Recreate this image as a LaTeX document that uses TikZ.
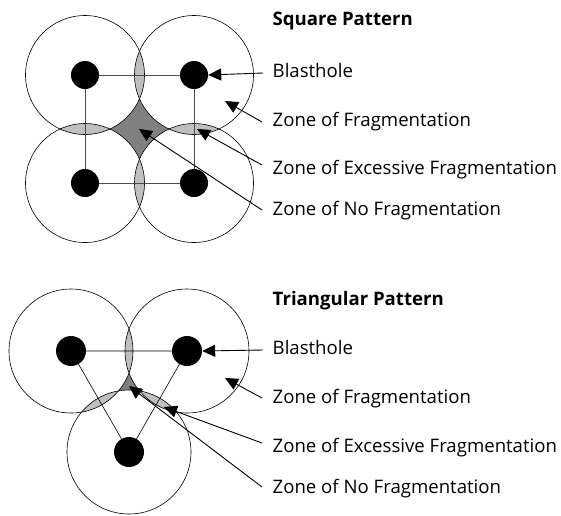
\documentclass[tikz,border=0pt]{standalone}
\usepackage{fontspec}
\setmainfont{Open Sans}
\usetikzlibrary{arrows.meta}
\begin{document}
\begin{tikzpicture}[x=1pt,y=-1pt,
  zone/.style={draw=black,line width=0.6pt},
  hole/.style={circle,fill=black,inner sep=0pt,minimum size=28pt},
  link/.style={draw=black!70,line width=0.8pt},
  tlink/.style={draw=black,line width=0.6pt},
  lbl/.style={anchor=base west,inner sep=0pt,font=\fontsize{18.6}{21}\selectfont},
  ttl/.style={anchor=base west,inner sep=0pt,font=\fontsize{18.6}{21}\selectfont\bfseries},
  ptr/.style={draw=black,line width=0.9pt,-{Triangle[length=13pt,width=12pt]}},
  lens/.style={fill=black!25},
  void/.style={fill=black!50}
]
\useasboundingbox (0,0) rectangle (561,515);
% ---------- square pattern ----------
\coordinate (sA) at (85,75);
\coordinate (sB) at (194,75);
\coordinate (sC) at (85,183);
\coordinate (sD) at (194,183);
\def\rS{59.5pt}
\fill[void] (sA) rectangle (sD);
\foreach \p in {sA,sB,sC,sD} \fill[white] (\p) circle[radius=\rS];
\begin{scope}\clip (sA) circle[radius=\rS]; \fill[lens] (sB) circle[radius=\rS]; \fill[lens] (sC) circle[radius=\rS];\end{scope}
\begin{scope}\clip (sD) circle[radius=\rS]; \fill[lens] (sB) circle[radius=\rS]; \fill[lens] (sC) circle[radius=\rS];\end{scope}
\foreach \p in {sA,sB,sC,sD} \draw[zone] (\p) circle[radius=\rS];
\draw[link] (sA) -- (sB) -- (sD) -- (sC) -- cycle;
\node[hole] (hA) at (sA) {};
\node[hole] (hB) at (sB) {};
\node[hole] (hC) at (sC) {};
\node[hole] (hD) at (sD) {};
\node[ttl] (t1) at (272.5,25) {Square Pattern};
\node[lbl] (l1) at (272.5,77) {Blasthole};
\node[lbl] (l2) at (272.5,126) {Zone of Fragmentation};
\node[lbl] (l3) at (272.5,174) {Zone of Excessive Fragmentation};
\node[lbl] (l4) at (272.5,215) {Zone of No Fragmentation};
\coordinate (e1) at (263,73);
\coordinate (e2) at (262,122);
\coordinate (e3) at (262,165);
\coordinate (e4) at (262,210);
\coordinate (f2) at (225,101);
\coordinate (f3) at (197,129);
\coordinate (f4) at (139,129);
\draw[ptr] (e1) -- (hB.east);
\draw[ptr] (e2) -- (f2);
\draw[ptr] (e3) -- (f3);
\draw[ptr] (e4) -- (f4);
% ---------- triangular pattern ----------
\coordinate (tA) at (71,351);
\coordinate (tB) at (187,351);
\coordinate (tC) at (129,452);
\def\rT{62pt}
\fill[void] (tA) -- (tB) -- (tC) -- cycle;
\foreach \p in {tA,tB,tC} \fill[white] (\p) circle[radius=\rT];
\begin{scope}\clip (tA) circle[radius=\rT]; \fill[lens] (tB) circle[radius=\rT]; \fill[lens] (tC) circle[radius=\rT];\end{scope}
\begin{scope}\clip (tB) circle[radius=\rT]; \fill[lens] (tC) circle[radius=\rT];\end{scope}
\foreach \p in {tA,tB,tC} \draw[zone] (\p) circle[radius=\rT];
\draw[tlink] (tA) -- (tB) -- (tC) -- cycle;
\node[hole,minimum size=30pt] (gA) at (tA) {};
\node[hole,minimum size=30pt] (gB) at (tB) {};
\node[hole,minimum size=30pt] (gC) at (tC) {};
\node[ttl] (t2) at (272.5,305) {Triangular Pattern};
\node[lbl] (m1) at (272.5,354) {Blasthole};
\node[lbl] (m2) at (272.5,403) {Zone of Fragmentation};
\node[lbl] (m3) at (272.5,452) {Zone of Excessive Fragmentation};
\node[lbl] (m4) at (272.5,493) {Zone of No Fragmentation};
\coordinate (k1) at (263,350);
\coordinate (k2) at (262,398);
\coordinate (k3) at (262,443);
\coordinate (k4) at (262,487);
\coordinate (g2) at (225,378);
\coordinate (g3) at (164,407);
\coordinate (g4) at (129,386);
\draw[ptr] (k1) -- (gB.east);
\draw[ptr] (k2) -- (g2);
\draw[ptr] (k3) -- (g3);
\draw[ptr] (k4) -- (g4);
\end{tikzpicture}
\end{document}
